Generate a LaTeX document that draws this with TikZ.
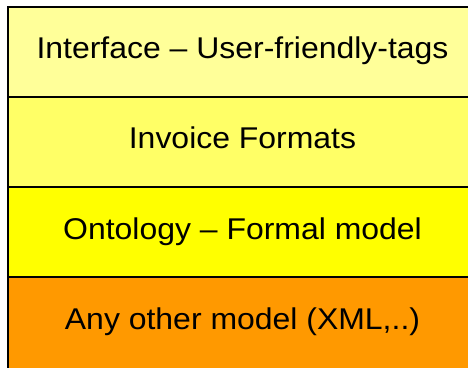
\documentclass[tikz,border=0pt]{standalone}
\usepackage{fontspec}
\setmainfont{Liberation Sans}
\definecolor{cA}{HTML}{FFFF99}
\definecolor{cB}{HTML}{FFFF66}
\definecolor{cC}{HTML}{FFFF00}
\definecolor{cD}{HTML}{FF9900}
\newcommand{\wide}[1]{\scalebox{1.065}[1]{#1}}
\begin{document}
\begin{tikzpicture}[x=1pt,y=1pt,
  layer/.style={draw=black,line width=1.3pt,minimum width=470pt,minimum height=90pt,inner sep=0pt,outer sep=0pt,anchor=north west},
  lbl/.style={font=\fontsize{30}{36}\selectfont,anchor=base,inner sep=0pt}]
\useasboundingbox (0,0) rectangle (468,367);
\node[layer,fill=cD,minimum height=110pt] (l4) at (8,90) {};
\node[layer,fill=cC] (l3) at (8,180) {};
\node[layer,fill=cB] (l2) at (8,270) {};
\node[layer,fill=cA] (l1) at (8,360) {};
\node[lbl] (t1) at (242.5,308.5) {\wide{Interface -- User-friendly-tags}};
\node[lbl] (t2) at (242.5,218.5) {\wide{Invoice Formats}};
\node[lbl] (t3) at (242.5,128) {\wide{Ontology -- Formal model}};
\node[lbl] (t4) at (242.5,37.5) {\wide{Any other model (XML,..)}};
\end{tikzpicture}
\end{document}
